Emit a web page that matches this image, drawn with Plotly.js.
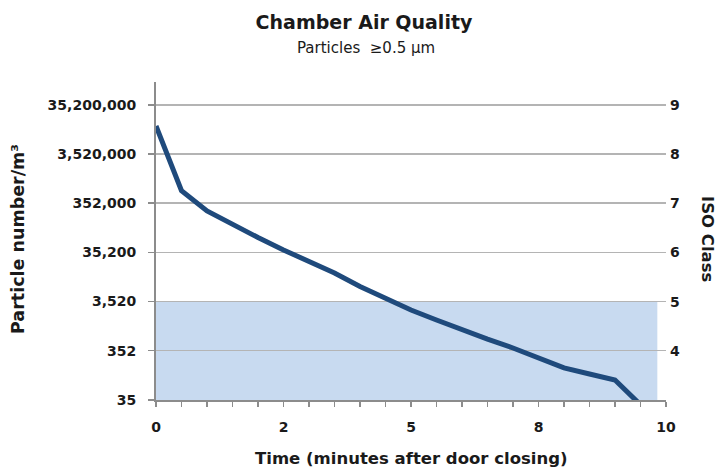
<!DOCTYPE html>
<html>
<head>
<meta charset="utf-8">
<script src="https://cdn.plot.ly/plotly-3.0.1.min.js"></script>
<style>html,body{margin:0;padding:0;background:#fff;}#chart{width:720px;height:473px;}</style>
</head>
<body>
<div id="chart"></div>
<script>
// ---- data ----
const timeMin = [0, 0.5, 1, 1.5, 2, 2.5, 3, 3.5, 4, 4.5, 5, 5.5, 6, 6.5, 7, 7.5, 8, 8.5, 9, 9.5];
const particles = [13100000, 630000, 244000, 127000, 70600, 39400, 22700, 13400, 7120, 4150,
                   2370, 1480, 929, 605, 400, 250, 157, 118, 89, 28];
const yTickVals = [35, 352, 3520, 35200, 352000, 3520000, 35200000];
const yTickText = ["35", "352", "3,520", "35,200", "352,000", "3,520,000", "35,200,000"];
const xTickVals = [0, 2.5, 5, 7.5, 10];
const xTickText = ["0", "2", "5", "8", "10"];
const isoTickVals = [4, 5, 6, 7, 8, 9];
const isoTickText = ["4", "5", "6", "7", "8", "9"];
const targetIsoClass = 5;      // shaded target zone: up to ISO Class 5
const targetZoneX = [0, 9.83];  // extent of shaded zone in minutes

// ---- layout helpers ----
const FONT = '"DejaVu Sans", Verdana, sans-serif';
const dark = '#1a1a1a';
const yMin = Math.log10(35), yMax = Math.log10(35) + 6.467;
const isoMin = 3, isoMax = 3 + 6.467;

const traces = [
  {
    x: timeMin, y: particles, type: 'scatter', mode: 'lines',
    line: {color: '#1f4a7c', width: 5}, hoverinfo: 'x+y', showlegend: false
  },
  { // invisible trace so the ISO axis is drawn
    x: [timeMin[0]], y: [isoMin], yaxis: 'y2', type: 'scatter', mode: 'markers',
    marker: {opacity: 0}, hoverinfo: 'skip', showlegend: false
  }
];

const tickFont = {family: FONT, size: 14, color: dark, weight: 'bold'};

const layout = {
  width: 720, height: 473,
  margin: {l: 156, r: 54, t: 82, b: 73},
  paper_bgcolor: '#fff', plot_bgcolor: 'rgba(0,0,0,0)',
  font: {family: FONT, color: dark},
  title: {
    text: 'Chamber Air Quality',
    font: {family: FONT, size: 19, color: dark, weight: 'bold'},
    x: 364/720, xref: 'container', xanchor: 'center',
    y: 1 - 22/473, yref: 'container', yanchor: 'middle'
  },
  xaxis: {
    range: [0, 10], tickmode: 'array', tickvals: xTickVals, ticktext: xTickText,
    ticks: 'outside', ticklen: 5, tickwidth: 1.5, tickcolor: '#8c8c8c',
    minor: {dtick: 0.5, ticks: 'outside', ticklen: 5, tickwidth: 1.5, tickcolor: '#8c8c8c', showgrid: false},
    showline: true, linecolor: '#8c8c8c', linewidth: 2, showgrid: false, zeroline: false,
    tickfont: tickFont, ticklabelstandoff: 8
  },
  yaxis: {
    type: 'log', range: [yMin, yMax], tickmode: 'array', tickvals: yTickVals, ticktext: yTickText,
    ticks: 'outside', ticklen: 6, tickwidth: 1.5, tickcolor: '#8c8c8c',
    showline: true, linecolor: '#8c8c8c', linewidth: 2,
    showgrid: true, gridcolor: '#b4b4b4', gridwidth: 1.5, zeroline: false,
    tickfont: tickFont, ticklabelstandoff: 9
  },
  yaxis2: {
    overlaying: 'y', side: 'right', range: [isoMin, isoMax],
    tickmode: 'array', tickvals: isoTickVals, ticktext: isoTickText,
    ticks: '', showline: false, showgrid: false, zeroline: false,
    tickfont: tickFont, ticklabelstandoff: 3
  },
  shapes: [{
    type: 'rect', layer: 'below', xref: 'x', yref: 'y2',
    x0: targetZoneX[0], x1: targetZoneX[1], y0: isoMin, y1: targetIsoClass,
    fillcolor: '#c8daf0', line: {width: 0}
  }],
  annotations: [
    { // subtitle
      text: 'Particles\u00a0 ≥0.5 µm', showarrow: false,
      xref: 'paper', yref: 'paper', x: (366-156)/510, y: 1, yshift: 82-48,
      xanchor: 'center', yanchor: 'middle',
      font: {family: FONT, size: 15, color: dark}
    },
    { // x axis title
      text: 'Time (minutes after door closing)', showarrow: false,
      xref: 'paper', yref: 'paper', x: (411-156)/510, y: 0, yshift: -(458-400),
      xanchor: 'center', yanchor: 'middle',
      font: {family: FONT, size: 16.5, color: dark, weight: 'bold'}
    },
    { // left y axis title
      text: 'Particle number/m³', textangle: -90, showarrow: false,
      xref: 'paper', yref: 'paper', x: 0, xshift: 18-156, y: (400-239)/318,
      xanchor: 'center', yanchor: 'middle',
      font: {family: FONT, size: 17.5, color: dark, weight: 'bold'}
    },
    { // right y axis title
      text: 'ISO Class', textangle: 90, showarrow: false,
      xref: 'paper', yref: 'paper', x: 1, xshift: 708-666, y: (400-239)/318,
      xanchor: 'center', yanchor: 'middle',
      font: {family: FONT, size: 16.5, color: dark, weight: 'bold'}
    }
  ]
};

Plotly.newPlot('chart', traces, layout, {displayModeBar: false, staticPlot: true});
</script>
</body>
</html>
